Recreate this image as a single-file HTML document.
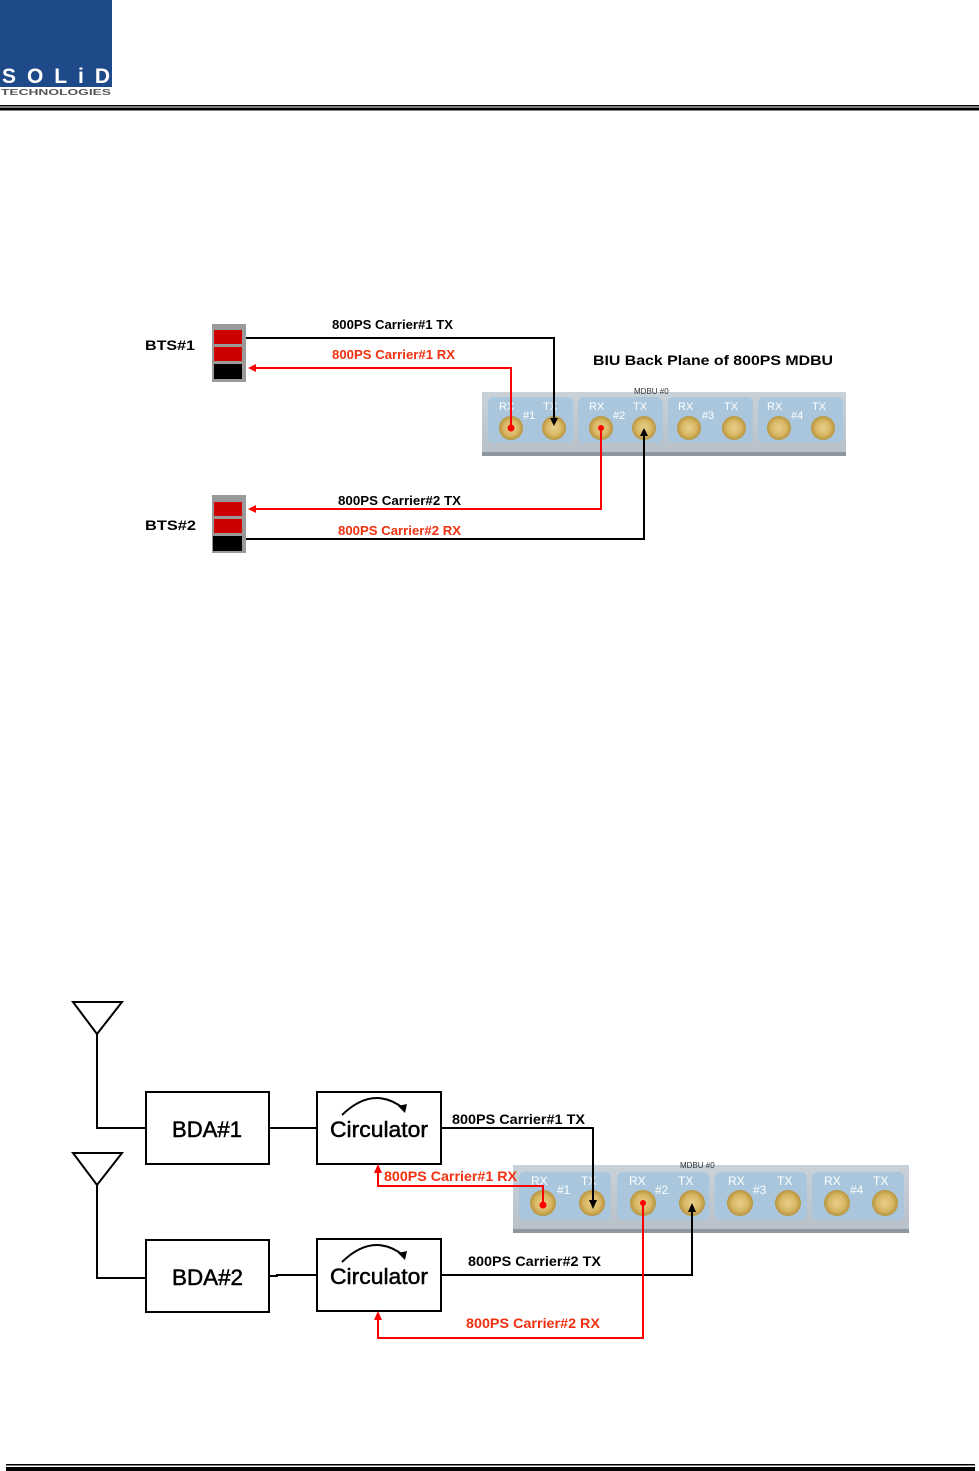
<!DOCTYPE html>
<html><head><meta charset="utf-8"><style>
html,body{margin:0;padding:0;background:#fff;}
svg{display:block;font-family:"Liberation Sans",Arial,sans-serif;}
</style></head><body>
<svg width="979" height="1471" viewBox="0 0 979 1471" xmlns="http://www.w3.org/2000/svg">
<defs>
<radialGradient id="cg" cx="50%" cy="50%" r="50%">
<stop offset="0" stop-color="#e8cf8a"/><stop offset="0.6" stop-color="#d9b866"/><stop offset="1" stop-color="#b8953e"/></radialGradient>
<linearGradient id="pg" x1="0" y1="0" x2="0" y2="1"><stop offset="0" stop-color="#c9d1d9"/><stop offset="1" stop-color="#b7c0c8"/></linearGradient>
</defs>
<!-- header -->
<rect x="0" y="0" width="112" height="96" fill="#1f4a8a"/>
<text x="2" y="83" font-size="21" font-weight="bold" fill="#fff" textLength="108" lengthAdjust="spacing">SOLiD</text>
<rect x="0" y="87" width="112" height="9" fill="#fff"/>
<text x="1" y="95" font-size="8" font-weight="bold" fill="#555" textLength="110" lengthAdjust="spacingAndGlyphs">TECHNOLOGIES</text>
<rect x="0" y="105" width="979" height="1.5" fill="#000"/>
<rect x="0" y="107.5" width="979" height="3" fill="#000"/>
<!-- footer -->
<rect x="6" y="1464" width="969" height="1.5" fill="#000"/>
<rect x="6" y="1467" width="969" height="4" fill="#000"/>

<!-- ===== Top diagram ===== -->
<g font-weight="bold" lengthAdjust="spacingAndGlyphs">
<text x="145" y="350" font-size="14" textLength="50" lengthAdjust="spacingAndGlyphs">BTS#1</text>
<text x="145" y="530" font-size="14" textLength="51" lengthAdjust="spacingAndGlyphs">BTS#2</text>
<text x="593" y="365" font-size="14" textLength="240" lengthAdjust="spacingAndGlyphs">BIU Back Plane of 800PS MDBU</text>
<text x="332" y="329" font-size="13" textLength="121" lengthAdjust="spacingAndGlyphs">800PS Carrier#1 TX</text>
<text x="332" y="359" font-size="13" fill="#f03010" textLength="123" lengthAdjust="spacingAndGlyphs">800PS Carrier#1 RX</text>
<text x="338" y="505" font-size="13" textLength="123" lengthAdjust="spacingAndGlyphs">800PS Carrier#2 TX</text>
<text x="338" y="535" font-size="13" fill="#f03010" textLength="123" lengthAdjust="spacingAndGlyphs">800PS Carrier#2 RX</text>
</g>
<!-- BTS racks -->
<g>
<rect x="212" y="324" width="34" height="58" fill="#9a9a9a"/>
<rect x="214" y="330" width="28" height="14" fill="#c00"/>
<rect x="214" y="347" width="28" height="14" fill="#c00"/>
<rect x="214" y="364" width="28" height="15" fill="#000"/>
<rect x="212" y="495" width="34" height="58" fill="#9a9a9a"/>
<rect x="214" y="502" width="28" height="14" fill="#c00"/>
<rect x="214" y="519" width="28" height="14" fill="#c00"/>
<rect x="213" y="536" width="29" height="15" fill="#000"/>
</g>
<!-- top panel -->
<g>
<rect x="482" y="392" width="364" height="64" fill="url(#pg)"/>
<rect x="482" y="452" width="364" height="4" fill="#8f979e"/>
<rect x="488" y="397" width="85" height="46" rx="6" fill="#a9c6dc"/>
<rect x="578" y="397" width="85" height="46" rx="6" fill="#a9c6dc"/>
<rect x="668" y="397" width="85" height="46" rx="6" fill="#a9c6dc"/>
<rect x="758" y="397" width="85" height="46" rx="6" fill="#a9c6dc"/>
<text x="634" y="394" font-size="8" fill="#333">MDBU #0</text>
<g fill="#fff" font-size="11">
<text x="499" y="410">RX</text><text x="543" y="410">TX</text><text x="523" y="419">#1</text>
<text x="589" y="410">RX</text><text x="633" y="410">TX</text><text x="613" y="419">#2</text>
<text x="678" y="410">RX</text><text x="724" y="410">TX</text><text x="702" y="419">#3</text>
<text x="767" y="410">RX</text><text x="812" y="410">TX</text><text x="791" y="419">#4</text>
</g>
<g fill="url(#cg)">
<circle cx="511" cy="428" r="12"/><circle cx="554" cy="428" r="12"/>
<circle cx="601" cy="428" r="12"/><circle cx="644" cy="428" r="12"/>
<circle cx="689" cy="428" r="12"/><circle cx="734" cy="428" r="12"/>
<circle cx="779" cy="428" r="12"/><circle cx="823" cy="428" r="12"/>
</g>
</g>
<!-- top connectors -->
<g fill="none" stroke-width="2">
<polyline points="246,338 554,338 554,420" stroke="#000"/>
<polyline points="511,428 511,368 252,368" stroke="#f00"/>
<polyline points="601,428 601,509 252,509" stroke="#f00"/>
<polyline points="644,434 644,539 246,539" stroke="#000"/>
</g>
<polygon points="550,418 558,418 554,426" fill="#000"/>
<polygon points="640,436 648,436 644,428" fill="#000"/>
<polygon points="248,368 256,364 256,372" fill="#f00"/>
<polygon points="248,509 256,505 256,513" fill="#f00"/>
<circle cx="511" cy="428" r="3.5" fill="#f00"/>
<circle cx="601" cy="428" r="3" fill="#f00"/>

<!-- ===== Bottom diagram ===== -->
<g fill="none" stroke="#000" stroke-width="2">
<polygon points="73,1002 122,1002 97,1034"/>
<polygon points="73,1153 122,1153 97,1185"/>
<polyline points="97,1034 97,1128 146,1128"/>
<polyline points="97,1185 97,1278 146,1278"/>
<rect x="146" y="1092" width="123" height="72"/>
<rect x="146" y="1240" width="123" height="72"/>
<rect x="317" y="1092" width="124" height="72"/>
<rect x="317" y="1239" width="124" height="72"/>
<line x1="269" y1="1128" x2="317" y2="1128"/>
<polyline points="269,1276 277,1276 277,1275 317,1275"/>
<path d="M342,1115 Q373,1085 403,1108" />
<path d="M342,1262 Q373,1232 403,1255" />
</g>
<polygon points="398,1106 407,1104 405,1113" fill="#000"/>
<polygon points="398,1253 407,1251 405,1260" fill="#000"/>
<g font-size="22" stroke="#000" stroke-width="0.5">
<text x="172" y="1137" textLength="70" lengthAdjust="spacingAndGlyphs">BDA#1</text>
<text x="172" y="1285" textLength="71" lengthAdjust="spacingAndGlyphs">BDA#2</text>
<text x="330" y="1137" textLength="98" lengthAdjust="spacingAndGlyphs">Circulator</text>
<text x="330" y="1284" textLength="98" lengthAdjust="spacingAndGlyphs">Circulator</text>
</g>
<!-- bottom panel -->
<g>
<rect x="513" y="1165" width="396" height="68" fill="url(#pg)"/>
<rect x="513" y="1229" width="396" height="4" fill="#8f979e"/>
<rect x="519" y="1172" width="92" height="48" rx="6" fill="#a9c6dc"/>
<rect x="617" y="1172" width="92" height="48" rx="6" fill="#a9c6dc"/>
<rect x="715" y="1172" width="92" height="48" rx="6" fill="#a9c6dc"/>
<rect x="812" y="1172" width="92" height="48" rx="6" fill="#a9c6dc"/>
<text x="680" y="1168" font-size="8" fill="#333">MDBU #0</text>
<g fill="#fff" font-size="12">
<text x="531" y="1185">RX</text><text x="581" y="1185">TX</text><text x="557" y="1194">#1</text>
<text x="629" y="1185">RX</text><text x="678" y="1185">TX</text><text x="655" y="1194">#2</text>
<text x="728" y="1185">RX</text><text x="777" y="1185">TX</text><text x="753" y="1194">#3</text>
<text x="824" y="1185">RX</text><text x="873" y="1185">TX</text><text x="850" y="1194">#4</text>
</g>
<g fill="url(#cg)">
<circle cx="543" cy="1203" r="13"/><circle cx="592" cy="1203" r="13"/>
<circle cx="643" cy="1203" r="13"/><circle cx="692" cy="1203" r="13"/>
<circle cx="740" cy="1203" r="13"/><circle cx="788" cy="1203" r="13"/>
<circle cx="837" cy="1203" r="13"/><circle cx="885" cy="1203" r="13"/>
</g>
</g>
<g fill="none" stroke-width="2">
<polyline points="441,1128 593,1128 593,1203" stroke="#000"/>
<polyline points="543,1203 543,1186 378,1186 378,1170" stroke="#f00"/>
<polyline points="441,1275 692,1275 692,1210" stroke="#000"/>
<polyline points="643,1203 643,1338 378,1338 378,1318" stroke="#f00"/>
</g>
<polygon points="589,1200 597,1200 593,1209" fill="#000"/>
<polygon points="688,1212 696,1212 692,1203" fill="#000"/>
<polygon points="374,1173 382,1173 378,1164" fill="#f00"/>
<polygon points="374,1320 382,1320 378,1311" fill="#f00"/>
<circle cx="543" cy="1205" r="3.5" fill="#f00"/>
<circle cx="643" cy="1203" r="3" fill="#f00"/>
<g font-weight="bold" font-size="14">
<text x="452" y="1124" textLength="133" lengthAdjust="spacingAndGlyphs">800PS Carrier#1 TX</text>
<text x="384" y="1181" fill="#f03010" textLength="133" lengthAdjust="spacingAndGlyphs">800PS Carrier#1 RX</text>
<text x="468" y="1266" textLength="133" lengthAdjust="spacingAndGlyphs">800PS Carrier#2 TX</text>
<text x="466" y="1328" fill="#f03010" textLength="134" lengthAdjust="spacingAndGlyphs">800PS Carrier#2 RX</text>
</g>
</svg>
</body></html>
